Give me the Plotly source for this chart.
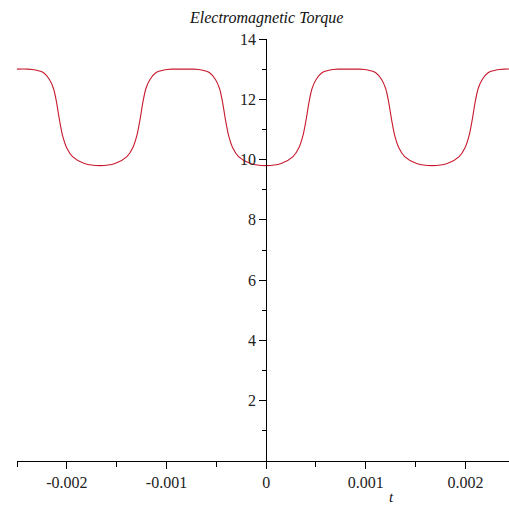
import plotly.graph_objects as go

# time (s) and torque values
t_ms = [-2.500, -2.393, -2.313, -2.233, -2.173, -2.133, -2.103, -2.073, -2.043, -2.003, -1.943, -1.823, -1.667,
        -1.517, -1.397, -1.337, -1.297, -1.267, -1.237, -1.207, -1.167, -1.107, -1.027, -0.947, -0.837, -0.727,
        -0.647, -0.567, -0.507, -0.467, -0.437, -0.407, -0.377, -0.337, -0.277, -0.157, 0.000,
        0.150, 0.270, 0.330, 0.370, 0.400, 0.430, 0.460, 0.500, 0.560, 0.640, 0.720, 0.830, 0.940,
        1.020, 1.100, 1.160, 1.200, 1.230, 1.260, 1.290, 1.330, 1.390, 1.510, 1.667,
        1.817, 1.937, 1.997, 2.037, 2.067, 2.097, 2.127, 2.167, 2.227, 2.307, 2.387, 2.500]
torque = [13.0, 13.0, 12.97, 12.88, 12.65, 12.35, 11.9, 11.3, 10.8, 10.4, 10.1, 9.87, 9.80,
          9.87, 10.1, 10.4, 10.8, 11.3, 11.9, 12.35, 12.65, 12.88, 12.97, 13.0, 13.0, 13.0,
          12.97, 12.88, 12.65, 12.35, 11.9, 11.3, 10.8, 10.4, 10.1, 9.87, 9.80,
          9.87, 10.1, 10.4, 10.8, 11.3, 11.9, 12.35, 12.65, 12.88, 12.97, 13.0, 13.0, 13.0,
          12.97, 12.88, 12.65, 12.35, 11.9, 11.3, 10.8, 10.4, 10.1, 9.87, 9.80,
          9.87, 10.1, 10.4, 10.8, 11.3, 11.9, 12.35, 12.65, 12.88, 12.97, 13.0, 13.0]
t = [v * 1e-3 for v in t_ms]

x_ticks = [-0.002, -0.001, 0, 0.001, 0.002]
x_labels = ["-0.002", "-0.001", "0", "0.001", "0.002"]
y_ticks = [2, 4, 6, 8, 10, 12, 14]
title_text = "Electromagnetic Torque"
x_title = "t"

font_family = "Liberation Serif, Times New Roman, serif"

fig = go.Figure()
fig.add_trace(go.Scatter(x=t, y=torque, mode="lines",
                         line=dict(color="rgb(200,25,45)", width=1.1, shape="spline", smoothing=0.8),
                         showlegend=False, hoverinfo="skip"))

xmin, xmax = -0.0025, 0.002437
ypos = (0 - xmin) / (xmax - xmin)

fig.update_layout(
    width=509, height=506,
    margin=dict(l=17, r=0, t=39, b=45),
    paper_bgcolor="white", plot_bgcolor="white",
    font=dict(family=font_family, size=15, color="#222"),
    xaxis=dict(range=[xmin, xmax], showgrid=False, zeroline=False,
               showline=True, linecolor="black", linewidth=1,
               ticks="outside", ticklen=7, tickcolor="black",
               tickvals=x_ticks, ticktext=x_labels,
               minor=dict(tickvals=[-0.0025, -0.0015, -0.0005, 0.0005, 0.0015], ticks="outside", ticklen=5, tickcolor="black"),
               tickfont=dict(family=font_family, size=16, color="#222")),
    yaxis=dict(range=[0, 14], showgrid=False, zeroline=False,
               showline=True, linecolor="black", linewidth=1,
               anchor="free", position=ypos,
               ticks="outside", ticklen=7, tickcolor="black",
               tickvals=y_ticks,
               minor=dict(tickvals=[1, 3, 5, 7, 9, 11, 13], ticks="outside", ticklen=4, tickcolor="black"),
               tickfont=dict(family=font_family, size=16, color="#222")),
)

fig.add_annotation(text=title_text, xref="paper", yref="paper", x=ypos, y=1, yshift=21,
                   showarrow=False, xanchor="center", yanchor="middle",
                   font=dict(family=font_family, size=16, color="#111", style="italic"))
fig.add_annotation(text=x_title, xref="x", yref="paper", x=0.00126, y=0, yshift=-36,
                   showarrow=False, xanchor="center", yanchor="middle",
                   font=dict(family=font_family, size=15, color="#111", style="italic"))

fig.write_html("out.html")
